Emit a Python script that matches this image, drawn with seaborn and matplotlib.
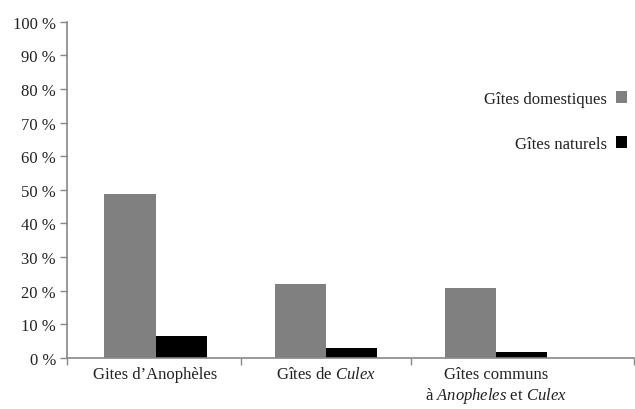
import numpy as np
import pandas as pd
import matplotlib
matplotlib.use('Agg')
import matplotlib.pyplot as plt
import seaborn as sns

# data
categories = ["Gites d\u2019Anophèles",
              "Gîtes de $\\mathit{Culex}$",
              "Gîtes communs\nà $\\mathit{Anopheles}$ et $\\mathit{Culex}$"]
series = ["Gîtes domestiques", "Gîtes naturels"]
domestiques = [48.8, 22.0, 20.7]
naturels = [6.5, 2.9, 1.9]
yticks = list(range(0, 101, 10))
ytick_labels = ["%d %%" % v for v in yticks]

df = pd.DataFrame({
    'cat': categories * 2,
    'type': [series[0]] * 3 + [series[1]] * 3,
    'val': domestiques + naturels,
})

sns.set_style('white')
plt.rcParams['font.family'] = ['Liberation Serif', 'DejaVu Serif']
plt.rcParams['mathtext.fontset'] = 'custom'
plt.rcParams['mathtext.rm'] = 'Liberation Serif'
plt.rcParams['mathtext.it'] = 'Liberation Serif:italic'

fig = plt.figure(figsize=(6.35, 4.1), dpi=100)
ax = fig.add_axes([67/635, (410-359)/410, (634-67)/635, (359-22.7)/410])

sns.barplot(data=df, x='cat', y='val', hue='type', order=categories,
            hue_order=series, palette=['#808080', '#000000'],
            width=0.6, saturation=1, linewidth=0, gap=0, ax=ax)

ax.set_xlim(-0.52, 2.81)
ax.set_ylim(0, 100)
ax.set_xlabel('')
ax.set_ylabel('')
ax.set_yticks(yticks)
ax.set_yticklabels(ytick_labels, fontsize=12, color='#222222')
ax.set_xticks(range(3))
ax.set_xticklabels(categories, fontsize=12, color='#222222', multialignment='center')
ax.tick_params(axis='x', which='major', length=0, pad=6)
ax.set_xticks([-0.52, 0.5, 1.5, 2.81], minor=True)
ax.tick_params(axis='x', which='minor', bottom=True, length=5, width=1,
               color='#888888', direction='out')
ax.tick_params(axis='y', length=5, width=1, color='#888888', direction='out', pad=3, left=True)

for s in ['top', 'right']:
    ax.spines[s].set_visible(False)
for s in ['left', 'bottom']:
    ax.spines[s].set_color('#888888')
    ax.spines[s].set_linewidth(1.2)

leg = ax.legend(loc='upper right', bbox_to_anchor=(1.0, 0.815), frameon=False,
                markerfirst=False, fontsize=12, handlelength=0.7, handleheight=0.7,
                labelspacing=1.75, handletextpad=0.5, borderaxespad=0)
for t in leg.get_texts():
    t.set_color('#222222')

fig.savefig('out.png', dpi=100)
